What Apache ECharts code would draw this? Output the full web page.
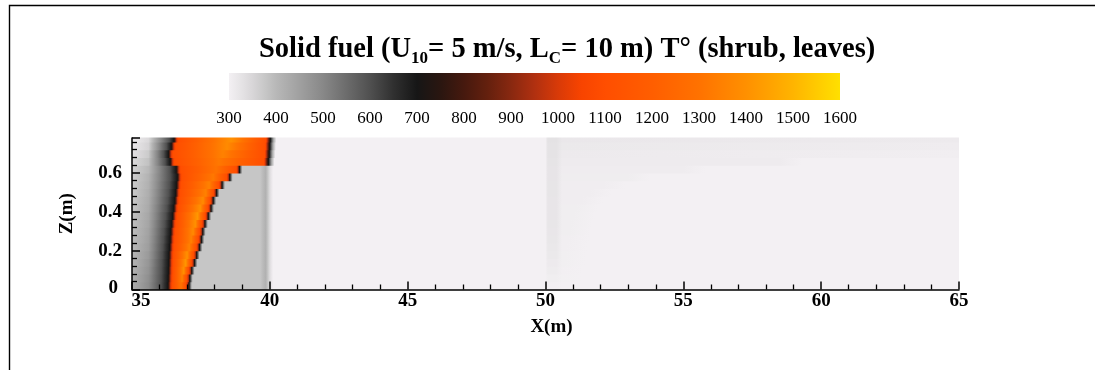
<!DOCTYPE html>
<html>
<head>
<meta charset="utf-8">
<script src="https://cdn.jsdelivr.net/npm/echarts@6/dist/echarts.min.js"></script>
<style>
html,body{margin:0;padding:0;background:#fff;}
#chart{width:1095px;height:370px;}
</style>
</head>
<body>
<div id="chart"></div>
<script>
// Temperature colour scale (K) and its tick labels
const scaleT = [300, 325, 350, 375, 400, 450, 500, 550, 600, 650, 700, 750, 800, 850, 900, 950, 1000, 1050, 1100, 1200, 1300, 1400, 1500, 1600];
const scaleColor = ['#f3f0f3', '#e6e4e6', '#d8d6d8', '#c8c8c8', '#b8b8b8', '#a0a0a0', '#888888', '#6c6c6c', '#505050', '#303030', '#161616',
  '#2a1610', '#46190e', '#64200e', '#882810', '#b03010', '#d83a08', '#f84400', '#ff4e00', '#ff5e00', '#ff7200', '#ff9000', '#ffb400', '#ffe000'];
const scaleTicks = [300, 400, 500, 600, 700, 800, 900, 1000, 1100, 1200, 1300, 1400, 1500, 1600];

// Horizontal slices of the solid-fuel temperature field (z in m, x in m, T in K)
const rowBottom = [0, 0.04, 0.08, 0.12, 0.16, 0.20, 0.24, 0.28, 0.32, 0.36, 0.40, 0.44, 0.48, 0.52, 0.56, 0.60, 0.64, 0.68, 0.72, 0.76];
const edgeT =     [425, 420, 415, 410, 405, 400, 396, 392, 388, 384, 380, 376, 372, 368, 364, 358, 345, 330, 318, 310];
const midT =      [490, 485, 478, 470, 462, 455, 450, 445, 440, 435, 430, 425, 420, 415, 410, 400, 385, 370, 355, 345];
const darkX =     [36.05, 36.06, 36.07, 36.08, 36.10, 36.12, 36.14, 36.16, 36.19, 36.22, 36.26, 36.30, 36.33, 36.36, 36.39, 36.38, 36.20, 36.15, 36.25, 36.35];
const frontLeft = [36.40, 36.41, 36.42, 36.43, 36.44, 36.46, 36.48, 36.50, 36.53, 36.57, 36.61, 36.65, 36.68, 36.71, 36.74, 36.70, 36.48, 36.42, 36.52, 36.62];
const coreX =     [36.78, 36.82, 36.88, 36.95, 37.00, 37.08, 37.15, 37.22, 37.30, 37.38, 37.48, 37.58, 37.68, 37.80, 37.95, 38.05, 38.15, 38.30, 38.45, 38.60];
const coreT =     [1300, 1350, 1400, 1420, 1400, 1350, 1350, 1380, 1400, 1420, 1400, 1380, 1350, 1350, 1320, 1300, 1320, 1350, 1380, 1400];
const frontRight = [37.02, 37.05, 37.12, 37.22, 37.30, 37.40, 37.47, 37.52, 37.60, 37.72, 37.82, 37.90, 38.02, 38.22, 38.50, 38.85, 39.85, 39.88, 39.90, 39.92];
const plateauT = 378;
// faint downstream wake beyond the fuel gap
const wakeStripT = [302, 305, 309, 312, 315, 317, 319, 320, 321, 322, 322, 322, 323, 323, 324, 324, 325, 326, 327, 329];
const wakeZoneT =  [300, 301, 302, 303, 303, 304, 304, 305, 305, 305, 305, 306, 306, 306, 307, 308, 310, 312, 315, 318];
const wakeEdgeX =  [50.5, 50.55, 50.6, 50.65, 50.7, 50.75, 50.8, 50.85, 50.9, 51.0, 51.1, 51.3, 51.6, 52.1, 53.0, 55.0, 58.5, 65, 65, 65];
const wakeEndT =   [300, 300, 300, 300, 300, 300, 300, 300, 300, 300, 300, 300, 300, 300, 300, 300, 300, 304, 308, 312];

const X_MIN = 35, X_MAX = 65, Z_MAX = 0.78, ROW_H = 0.04;
const SERIF = '"Liberation Serif", "Times New Roman", serif';

function tempColor(t) {
  if (t <= scaleT[0]) return scaleColor[0];
  for (let i = 1; i < scaleT.length; i++) {
    if (t <= scaleT[i]) {
      const f = (t - scaleT[i - 1]) / (scaleT[i] - scaleT[i - 1]);
      return echarts.color.lerp(f, [scaleColor[i - 1], scaleColor[i]]);
    }
  }
  return scaleColor[scaleColor.length - 1];
}

// breakpoints [x, T] along one slice
function slicePoints(i) {
  const L = frontLeft[i], R = frontRight[i];
  const p = [[X_MIN, edgeT[i]], [35.6, midT[i]], [darkX[i], 600], [L - 0.1, 700], [L, 1000], [L + 0.07, 1100],
    [coreX[i], coreT[i]], [R - 0.07, 1100], [R, 950]];
  if (R > 39.5) {
    p.push([R + 0.1, 700], [R + 0.22, 420], [R + 0.32, 300]);
  } else {
    p.push([R + 0.05, 700], [R + 0.15, plateauT], [39.65, plateauT], [39.85, 415], [40.0, 340], [40.12, 300]);
  }
  p.push([50.0, 300], [50.08, wakeStripT[i]], [50.4, wakeStripT[i]], [50.6, wakeZoneT[i]]);
  if (wakeEdgeX[i] < X_MAX) {
    const fadeEnd = Math.min(wakeEdgeX[i] + 0.8, X_MAX);
    p.push([Math.max(wakeEdgeX[i], 50.61), wakeZoneT[i]], [fadeEnd, 300]);
    if (fadeEnd < X_MAX) p.push([X_MAX, 300]);
  } else {
    p.push([X_MAX, wakeEndT[i]]);
  }
  return p;
}

// gradient stops that follow the colour scale between breakpoints
function sliceStops(i, x0, x1) {
  const pts = slicePoints(i);
  const stops = [];
  const off = x => Math.max(0, Math.min(1, (x - x0) / (x1 - x0)));
  stops.push({offset: off(pts[0][0]), color: tempColor(pts[0][1])});
  for (let k = 1; k < pts.length; k++) {
    const [xa, ta] = pts[k - 1], [xb, tb] = pts[k];
    const n = Math.abs(tb - ta) > 30 ? Math.ceil(Math.abs(tb - ta) / 25) : 1;
    for (let s = 1; s <= n; s++) {
      const f = s / n;
      stops.push({offset: off(xa + (xb - xa) * f), color: tempColor(ta + (tb - ta) * f)});
    }
  }
  return stops;
}

const chart = echarts.init(document.getElementById('chart'));

const labelStyle = {color: '#000', fontFamily: SERIF, fontWeight: 'bold', fontSize: 19};

chart.setOption({
  animation: false,
  backgroundColor: '#fff',
  title: {
    left: 254, top: 28,
    text: '{b|Solid fuel (U}{s|10}{b|= 5 m/s, L}{s|C}{b|= 10 m) T° (shrub, leaves)}',
    textStyle: {
      rich: {
        b: {fontFamily: SERIF, fontWeight: 'bold', fontSize: 28.5, color: '#000', lineHeight: 34},
        s: {fontFamily: SERIF, fontWeight: 'bold', fontSize: 17, color: '#000', lineHeight: 34, verticalAlign: 'bottom'}
      }
    }
  },
  graphic: [{
    type: 'rect', silent: true, z: 100,
    shape: {x: 9.5, y: 5.5, width: 1200, height: 500},
    style: {fill: 'none', stroke: '#000', lineWidth: 1.4}
  }],
  grid: [
    {left: 132, right: 136, top: 138, bottom: 80.5},
    {left: 229, width: 611, top: 73, height: 27}
  ],
  xAxis: [{
    gridIndex: 0, type: 'value', min: X_MIN, max: X_MAX, interval: 5, z: 10,
    name: 'X(m)', nameLocation: 'middle', nameGap: 28,
    nameTextStyle: Object.assign({padding: [0, 0, 0, 12]}, labelStyle),
    axisLine: {show: true, onZero: false, lineStyle: {color: '#000', width: 1.5}},
    axisTick: {show: true, inside: true, length: 8, lineStyle: {color: '#000', width: 1.5}},
    minorTick: {show: true, splitNumber: 5, length: 5, lineStyle: {color: '#000', width: 1.3}},
    splitLine: {show: false},
    axisLabel: Object.assign({margin: 2,
      formatter: v => v === X_MIN ? '{f|' + v + '}' : String(v),
      rich: {f: Object.assign({padding: [0, 0, 0, 18]}, labelStyle)}}, labelStyle)
  }, {
    gridIndex: 1, type: 'value', min: 300, max: 1600, interval: 100,
    axisLine: {show: false}, axisTick: {show: false}, splitLine: {show: false},
    axisLabel: {margin: 10, color: '#000', fontFamily: SERIF, fontSize: 17, formatter: v => String(v)}
  }],
  yAxis: [{
    gridIndex: 0, type: 'value', min: 0, max: Z_MAX, interval: 0.2, z: 10,
    name: 'Z(m)', nameLocation: 'middle', nameGap: 55, nameRotate: 90,
    nameTextStyle: labelStyle,
    axisLine: {show: true, onZero: false, lineStyle: {color: '#000', width: 1.5}},
    axisTick: {show: true, inside: true, length: 8, lineStyle: {color: '#000', width: 1.5}},
    minorTick: {show: true, splitNumber: 5, length: 5, lineStyle: {color: '#000', width: 1.3}},
    splitLine: {show: false},
    axisLabel: Object.assign({margin: 10, showMaxLabel: false,
      formatter: v => v === 0 ? '{z|0}' : v.toFixed(1),
      rich: {z: Object.assign({padding: [0, 4, 2, 0]}, labelStyle)}}, labelStyle)
  }, {
    gridIndex: 1, type: 'value', min: 0, max: 1, show: false
  }],
  series: [{
    type: 'custom',
    name: 'T',
    xAxisIndex: 0, yAxisIndex: 0, z: 2,
    data: rowBottom.map((z, i) => [X_MIN, z, i]),
    encode: {x: 0, y: 1},
    renderItem: (params, api) => {
      const i = api.value(2);
      const z0 = rowBottom[i], z1 = Math.min(z0 + ROW_H, Z_MAX);
      const a = api.coord([X_MIN, z1]);
      const b = api.coord([X_MAX, z0]);
      return {
        type: 'rect',
        shape: {x: a[0], y: a[1] - 0.5, width: b[0] - a[0], height: b[1] - a[1] + 1},
        style: {fill: new echarts.graphic.LinearGradient(0, 0, 1, 0, sliceStops(i, X_MIN, X_MAX))}
      };
    }
  }, {
    type: 'custom',
    name: 'scale',
    xAxisIndex: 1, yAxisIndex: 1,
    data: [[scaleT[0], scaleT[scaleT.length - 1]]],
    encode: {x: [0, 1]},
    renderItem: (params, api) => {
      const a = api.coord([api.value(0), 1]);
      const b = api.coord([api.value(1), 0]);
      const lo = scaleT[0], hi = scaleT[scaleT.length - 1];
      return {
        type: 'rect',
        shape: {x: a[0], y: a[1], width: b[0] - a[0], height: b[1] - a[1]},
        style: {fill: new echarts.graphic.LinearGradient(0, 0, 1, 0,
          scaleT.map((t, k) => ({offset: (t - lo) / (hi - lo), color: scaleColor[k]})))}
      };
    }
  }]
});
</script>
</body>
</html>
